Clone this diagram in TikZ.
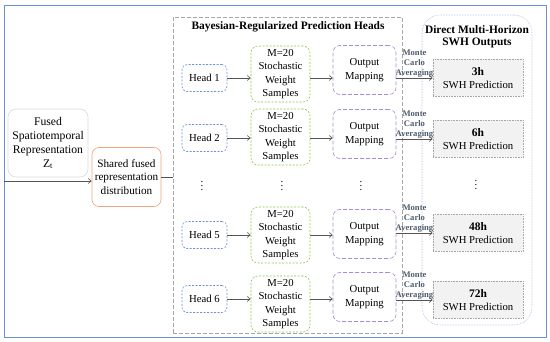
\documentclass[tikz,border=0pt]{standalone}
\usepackage{fontspec}
\setmainfont{Liberation Serif}
\usetikzlibrary{arrows.meta}
\definecolor{bhFrame}{HTML}{6F8FD3}
\definecolor{bhHead}{HTML}{6A93DA}
\definecolor{bhSample}{HTML}{8CC653}
\definecolor{bhMap}{HTML}{A98CD6}
\definecolor{bhShared}{HTML}{EFA57A}
\definecolor{bhFused}{HTML}{D9D9D9}
\definecolor{bhGrey}{HTML}{A6A6A6}
\definecolor{bhOutFrame}{HTML}{A3B2E3}
\definecolor{bhPredFill}{HTML}{F2F2F2}
\definecolor{bhMC}{HTML}{4E5D6C}
\definecolor{bhArrow}{HTML}{555555}
\tikzset{
  bayesfig/.style={
    x=1pt, y=-1pt,
    every node/.append style={font=\fontsize{10.7}{13.5}\selectfont},
    >={Straight Barb[length=3pt,width=5pt]},
  },
  bhbox/.style={
    draw, line width=0.6pt, rounded corners=5pt, align=center, inner sep=1pt,
  },
  headnode/.style={bhbox, draw=bhHead, dash pattern=on 2pt off 1.5pt,
    minimum width=45pt, minimum height=27pt},
  samplenode/.style={bhbox, draw=bhSample, dash pattern=on 2pt off 1.5pt,
    rounded corners=7pt, minimum width=59pt, minimum height=56pt},
  mapnode/.style={bhbox, draw=bhMap, dash pattern=on 4pt off 2pt,
    rounded corners=7pt, minimum width=63pt, minimum height=49pt},
  prednode/.style={draw=bhGrey, densely dotted, fill=bhPredFill, line width=0.6pt,
    align=center, inner sep=1pt, minimum width=90pt, minimum height=37pt},
  flow/.style={draw=bhArrow, line width=0.6pt, ->},
  mclabel/.style={font=\fontsize{8.6}{10}\selectfont\bfseries, text=bhMC,
    align=center, inner sep=0.5pt},
  frametitle/.style={font=\fontsize{11.4}{12.5}\selectfont\bfseries, align=center},
}
\begin{document}
\begin{tikzpicture}[bayesfig]
  \useasboundingbox (0,0) rectangle (550,342);
  \draw[bhFrame, line width=0.8pt] (4,5) rectangle (546,337);
  % Eingang und gemeinsame Verteilung
  \node[bhbox, draw=bhFused, rounded corners=8pt, minimum width=80pt, minimum height=68pt,
    font=\fontsize{11.7}{14}\selectfont]
    (fused) at (48,143) {Fused\\Spatiotemporal\\Representation\\Z\textsubscript{t}};
  \node[bhbox, draw=bhShared, rounded corners=7pt, minimum width=69pt, minimum height=59pt,
    font=\fontsize{11.2}{13.5}\selectfont]
    (shared) at (126.5,177) {Shared fused\\representation\\distribution};
  \coordinate (inLeft) at (4,181);
  \draw[flow] (inLeft) -- (inLeft -| shared.west);
  % Rahmen der Vorhersagekoepfe
  \node[draw=bhGrey, dash pattern=on 4pt off 2pt, line width=0.6pt,
    minimum width=229pt, minimum height=316pt] (headsFrame) at (287.5,175) {};
  \node[frametitle] (headsTitle) at (288,27) {Bayesian-Regularized Prediction Heads};
  \draw[bhArrow, line width=0.6pt] (shared.east) -- (headsFrame.west |- shared.east);
  \node[draw=bhOutFrame, densely dotted, rounded corners=18pt, line width=0.6pt,
    minimum width=110pt, minimum height=310pt] (outFrame) at (477,170) {};
  \node[frametitle] (outTitle) at (477,37) {Direct Multi-Horizon\\SWH Outputs};
  \foreach \i/\hy/\sy/\my/\py/\hr in {1/78/74/70/78/3, 2/138/137/134/139/6,
      5/235/235/234/233/48, 6/299/304/297/300/72} {
    \node[headnode] (head\i) at (204.5,\hy) {Head \i};
    \node[samplenode] (samp\i) at (280.5,\sy) {M=20\\Stochastic\\Weight\\Samples};
    \node[mapnode] (map\i) at (364.5,\my) {Output\\Mapping};
    \node[prednode] (pred\i) at (478,\py) {{\fontsize{11.5}{13.5}\selectfont\bfseries \hr h}\\SWH Prediction};
    \draw[flow] (head\i.east) -- (head\i.east -| samp\i.west);
    \draw[flow] (samp\i.east |- head\i.east) -- (map\i.west |- head\i.east);
    \draw[flow] (map\i.east |- pred\i.west) -- (pred\i.west)
      node[midway, above, mclabel] {Monte\\Carlo\\Averaging};
  }
  \node[inner sep=0pt] (headDots) at (202,183) {$\vdots$};
  \node[inner sep=0pt] (sampDots) at (282,183) {$\vdots$};
  \node[inner sep=0pt] (mapDots) at (361,183) {$\vdots$};
  \node[inner sep=0pt] (predDots) at (476,182) {$\vdots$};
\end{tikzpicture}
\end{document}
